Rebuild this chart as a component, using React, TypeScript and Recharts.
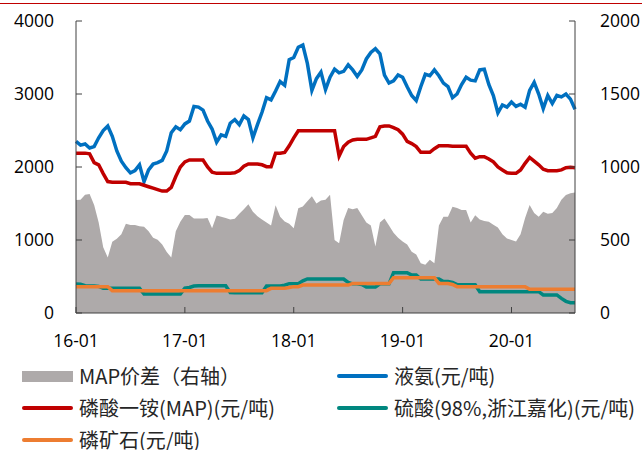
import { ComposedChart, Area, Line, XAxis, YAxis, Legend } from "recharts";

// half-month steps from 2016-01 to 2020-08
const xTickIndex = [0, 24, 48, 72, 96];
const xTickLabels = ["16-01", "17-01", "18-01", "19-01", "20-01"];
const leftTicks = [0, 1000, 2000, 3000, 4000];
const rightTicks = [0, 500, 1000, 1500, 2000];

// MAP价差（右轴）
const mapSpread = [
  774, 775, 810, 815, 740, 620, 450, 380, 488, 508,
  540, 612, 603, 603, 595, 590, 560, 515, 502, 470,
  418, 380, 560, 625, 671, 671, 648, 648, 648, 650,
  580, 668, 660, 650, 640, 645, 680, 710, 745, 694,
  662, 640, 620, 600, 738, 660, 626, 612, 580, 717,
  730, 765, 800, 750, 770, 775, 810, 500, 477, 637,
  720, 710, 720, 670, 620, 600, 455, 620, 648, 600,
  550, 515, 490, 470, 420, 400, 340, 330, 364, 340,
  600, 660, 660, 728, 720, 705, 705, 620, 670, 640,
  630, 625, 605, 585, 540, 511, 500, 490, 540, 650,
  740, 685, 660, 694, 680, 685, 720, 775, 808, 820, 825,
];

// 液氨
const ammonia = [
  2350, 2300, 2315, 2260, 2280, 2400, 2500, 2560, 2420, 2220,
  2080, 1990, 1920, 1950, 2030, 1800, 1960, 2040, 2060, 2090,
  2220, 2470, 2550, 2510, 2590, 2630, 2830, 2820, 2780, 2630,
  2520, 2340, 2440, 2420, 2600, 2650, 2580, 2700, 2650, 2400,
  2580, 2750, 2950, 2920, 3040, 3170, 3120, 3470, 3500, 3640,
  3670, 3420, 3050, 3210, 3300, 3060, 3230, 3340, 3290, 3310,
  3400, 3330, 3240, 3330, 3480, 3570, 3620, 3550, 3260, 3150,
  3180, 3260, 3230, 3100, 2980, 2910, 3100, 3270, 3250, 3330,
  3250, 3150, 3100, 2950, 3000, 3130, 3230, 3190, 3180, 3330,
  3340, 3130, 2980, 2740, 2850, 2820, 2890, 2830, 2860, 2820,
  3050, 3160, 3000, 2800, 2980, 2870, 2980, 2960, 3000, 2930, 2790,
];

// 磷酸一铵(MAP)
const mapPrice = [
  2190, 2190, 2190, 2180, 2060, 2030, 1910, 1800, 1790, 1790,
  1790, 1790, 1770, 1770, 1770, 1750, 1730, 1710, 1690, 1670,
  1670, 1720, 1870, 2000, 2070, 2096, 2096, 2096, 2096, 2000,
  1930, 1913, 1913, 1913, 1913, 1920, 1950, 2010, 2041, 2041,
  2041, 2030, 2005, 2005, 2188, 2188, 2200, 2290, 2400, 2497,
  2497, 2497, 2497, 2497, 2497, 2497, 2497, 2497, 2150, 2280,
  2340, 2370, 2379, 2379, 2379, 2400, 2420, 2550, 2562, 2562,
  2540, 2510, 2450, 2350, 2320, 2280, 2201, 2201, 2201, 2250,
  2292, 2292, 2292, 2283, 2283, 2283, 2283, 2190, 2120, 2141,
  2141, 2110, 2070, 2000, 1960, 1920, 1913, 1913, 1960, 2050,
  2130, 2080, 2030, 1970, 1950, 1950, 1950, 1960, 1990, 1995, 1990,
];

// 硫酸(98%,浙江嘉化)
const sulfuricAcid = [
  397, 395, 375, 370, 370, 365, 340, 338, 338, 338,
  338, 338, 338, 338, 338, 260, 260, 260, 260, 260,
  260, 260, 260, 260, 340, 350, 370, 374, 374, 374,
  374, 374, 374, 374, 280, 279, 279, 279, 279, 279,
  279, 279, 370, 370, 370, 370, 380, 402, 402, 402,
  440, 466, 466, 466, 466, 466, 466, 466, 466, 466,
  420, 400, 400, 390, 355, 355, 355, 400, 400, 400,
  553, 553, 553, 553, 520, 520, 466, 466, 466, 466,
  466, 430, 430, 420, 388, 388, 388, 388, 388, 292,
  292, 292, 292, 292, 292, 292, 292, 292, 292, 292,
  292, 292, 292, 247, 247, 247, 247, 200, 160, 142, 142,
];

// 磷矿石
const phosphateRock = [
  361, 361, 361, 361, 361, 361, 361, 361, 306, 306,
  306, 306, 306, 306, 306, 306, 306, 306, 306, 306,
  306, 306, 306, 306, 306, 306, 306, 306, 306, 306,
  306, 306, 306, 306, 306, 306, 306, 306, 306, 306,
  306, 306, 306, 338, 338, 338, 338, 350, 361, 361,
  383, 383, 383, 383, 383, 383, 383, 383, 383, 383,
  383, 405, 405, 405, 405, 405, 405, 405, 405, 405,
  484, 484, 484, 484, 484, 484, 484, 484, 484, 484,
  405, 405, 405, 390, 361, 361, 361, 361, 361, 361,
  361, 361, 361, 361, 361, 361, 361, 361, 361, 361,
  324, 324, 324, 324, 324, 324, 324, 324, 324, 324, 324,
];

const series = [
  { key: "spread", name: "MAP价差（右轴）", color: "#AEAAAA", kind: "area" },
  { key: "ammonia", name: "液氨(元/吨)", color: "#0070C0", kind: "line" },
  { key: "map", name: "磷酸一铵(MAP)(元/吨)", color: "#C00000", kind: "line" },
  { key: "acid", name: "硫酸(98%,浙江嘉化)(元/吨)", color: "#00877F", kind: "line" },
  { key: "rock", name: "磷矿石(元/吨)", color: "#ED7D31", kind: "line" },
];

const chartData = ammonia.map((_, i) => ({
  i,
  spread: mapSpread[i],
  ammonia: ammonia[i],
  map: mapPrice[i],
  acid: sulfuricAcid[i],
  rock: phosphateRock[i],
}));

const AXIS = "#404040";
const TICK_LEN = 6;
const LEFT_GAP = 22;
const RIGHT_GAP = 25;
const BOTTOM_GAP = 21;
const tickFont = { fontFamily: "'Open Sans', sans-serif", fontSize: 17.5, fill: "#000" };

function LeftTick({ x, y, payload }: any) {
  return (
    <g>
      <line x1={x + LEFT_GAP} x2={x + LEFT_GAP + TICK_LEN} y1={y} y2={y} stroke={AXIS} />
      <text x={x} y={y} dy="0.36em" textAnchor="end" {...tickFont}>
        {payload.value}
      </text>
    </g>
  );
}

function RightTick({ x, y, payload }: any) {
  return (
    <g>
      <line x1={x - RIGHT_GAP} x2={x - RIGHT_GAP - TICK_LEN} y1={y} y2={y} stroke={AXIS} />
      <text x={x} y={y} dy="0.36em" textAnchor="start" {...tickFont}>
        {payload.value}
      </text>
    </g>
  );
}

function BottomTick({ x, y, payload }: any) {
  const label = xTickLabels[xTickIndex.indexOf(payload.value)];
  return (
    <g>
      <line x1={x} x2={x} y1={y - BOTTOM_GAP} y2={y - BOTTOM_GAP - TICK_LEN} stroke={AXIS} />
      <text x={x} y={y} dy="0.72em" textAnchor="middle" {...tickFont}>
        {label}
      </text>
    </g>
  );
}

function ChartLegend() {
  return (
    <div style={{ position: "relative", height: 0, width: 642 }}>
      {series.map((s, idx) => {
        const col = idx % 2;
        const row = Math.floor(idx / 2);
        return (
          <div
            key={s.key}
            style={{
              position: "absolute",
              left: col === 0 ? 22 : 337,
              top: 366 + row * 32,
              height: 20,
              display: "flex",
              alignItems: "center",
              whiteSpace: "nowrap",
            }}
          >
            <span
              style={{
                display: "inline-block",
                width: 51,
                height: s.kind === "area" ? 11 : 4,
                background: s.color,
                borderRadius: s.kind === "area" ? 0 : 2,
              }}
            />
            <span
              style={{
                marginLeft: 6,
                fontFamily: "'Noto Sans CJK SC', sans-serif",
                fontSize: 20,
                color: "#262626",
                lineHeight: "20px",
              }}
            >
              {s.name}
            </span>
          </div>
        );
      })}
    </div>
  );
}

export default function App() {
  return (
    <div
      style={{
        position: "absolute",
        left: 0,
        top: 0,
        width: 642,
        height: 450,
        background: "#fff",
        overflow: "hidden",
      }}
    >
      <div style={{ position: "absolute", left: 0, top: 3, width: 642, height: 1, background: "#C00000" }} />
      <ComposedChart
        width={642}
        height={450}
        data={chartData}
        margin={{ top: 21, right: 0, bottom: 107, left: 0 }}
      >
        <XAxis
          dataKey="i"
          type="number"
          domain={[0, 110]}
          ticks={xTickIndex}
          tickSize={0}
          tickMargin={BOTTOM_GAP}
          tick={<BottomTick />}
          axisLine={{ stroke: AXIS }}
          height={30}
          interval={0}
        />
        <YAxis
          yAxisId="left"
          domain={[0, 4000]}
          ticks={leftTicks}
          tickSize={0}
          tickMargin={LEFT_GAP}
          tick={<LeftTick />}
          axisLine={{ stroke: AXIS }}
          width={76}
          interval={0}
        />
        <YAxis
          yAxisId="right"
          orientation="right"
          domain={[0, 2000]}
          ticks={rightTicks}
          tickSize={0}
          tickMargin={RIGHT_GAP}
          tick={<RightTick />}
          axisLine={{ stroke: AXIS }}
          width={67}
          interval={0}
        />
        <Legend
          content={<ChartLegend />}
          wrapperStyle={{ left: 0, top: 0, bottom: "auto", width: 642 }}
        />
        <Area
          yAxisId="right"
          type="linear"
          dataKey="spread"
          name="MAP价差（右轴）"
          stroke="none"
          fill="#AEAAAA"
          fillOpacity={1}
          isAnimationActive={false}
        />
        <Line yAxisId="left" type="linear" dataKey="ammonia" name="液氨(元/吨)" stroke="#0070C0" strokeWidth={3.5} dot={false} isAnimationActive={false} />
        <Line yAxisId="left" type="linear" dataKey="map" name="磷酸一铵(MAP)(元/吨)" stroke="#C00000" strokeWidth={3.5} dot={false} isAnimationActive={false} />
        <Line yAxisId="left" type="linear" dataKey="acid" name="硫酸(98%,浙江嘉化)(元/吨)" stroke="#00877F" strokeWidth={3.5} dot={false} isAnimationActive={false} />
        <Line yAxisId="left" type="linear" dataKey="rock" name="磷矿石(元/吨)" stroke="#ED7D31" strokeWidth={3.5} dot={false} isAnimationActive={false} />
      </ComposedChart>
    </div>
  );
}
